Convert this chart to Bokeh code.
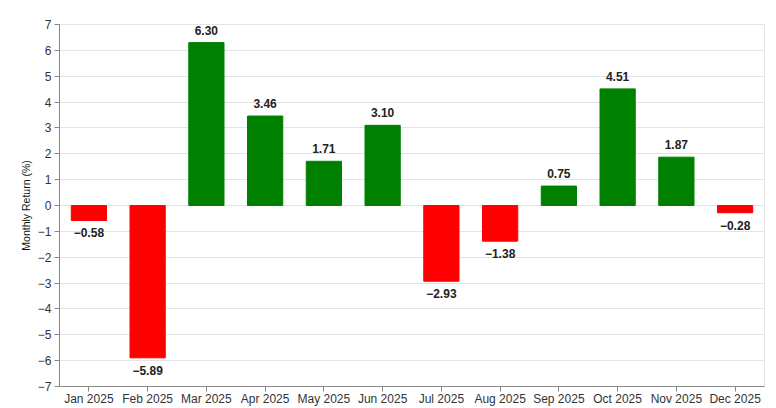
from bokeh.plotting import figure
from bokeh.models import ColumnDataSource, FixedTicker, LabelSet, FactorRange, Range1d
from bokeh.core.properties import value
from bokeh.embed import file_html
from bokeh.resources import INLINE

months = ["Jan 2025", "Feb 2025", "Mar 2025", "Apr 2025", "May 2025", "Jun 2025",
          "Jul 2025", "Aug 2025", "Sep 2025", "Oct 2025", "Nov 2025", "Dec 2025"]
returns = [-0.58, -5.89, 6.30, 3.46, 1.71, 3.10, -2.93, -1.38, 0.75, 4.51, 1.87, -0.28]
y_ticks = list(range(-7, 8))

def fmt(v):
    s = f"{abs(v):.2f}"
    return ("\u2212" + s) if v < 0 else s

colors = ["#008000" if v >= 0 else "#ff0000" for v in returns]
src = ColumnDataSource(dict(m=months, v=returns, c=colors))
pos = ColumnDataSource(dict(m=[m for m, v in zip(months, returns) if v >= 0],
                            v=[v for v in returns if v >= 0],
                            t=[fmt(v) for v in returns if v >= 0]))
neg = ColumnDataSource(dict(m=[m for m, v in zip(months, returns) if v < 0],
                            v=[v for v in returns if v < 0],
                            t=[fmt(v) for v in returns if v < 0]))

p = figure(width=768, height=408, x_range=FactorRange(*months, range_padding=0),
           y_range=Range1d(-7, 7), output_backend="svg", toolbar_location=None,
           min_border_left=59, min_border_right=4, min_border_top=24, min_border_bottom=21)
p.vbar(x="m", top="v", bottom=0, width=0.6, fill_color="c", line_color="c", source=src)

font = "Liberation Sans"
for s, off, base in [(pos, 8, "bottom"), (neg, -8, "top")]:
    p.add_layout(LabelSet(x="m", y="v", text="t", source=s, y_offset=off,
                          text_align="center", text_baseline=base,
                          text_font=value(font), text_font_size=value("12px"),
                          text_font_style=value("bold"), text_color=value("#222222")))

p.yaxis.ticker = FixedTicker(ticks=y_ticks)
p.yaxis.major_label_overrides = {t: (("\u2212" + str(-t)) if t < 0 else str(t)) for t in y_ticks}
p.yaxis.axis_label = "Monthly Return (%)"
p.yaxis.axis_label_text_font = font
p.yaxis.axis_label_text_font_size = "10.5px"
p.yaxis.axis_label_text_font_style = "normal"
p.yaxis.axis_label_text_color = "#111111"
p.yaxis.axis_label_standoff = 3
p.yaxis.major_label_standoff = 3
p.xaxis.major_label_standoff = 0
p.yaxis.minor_tick_line_color = None
for ax in (p.xaxis, p.yaxis):
    ax.axis_line_color = "#888888"
    ax.major_tick_line_color = "#888888"
    ax.major_tick_out = 5
    ax.major_tick_in = 0
    ax.major_label_text_font = font
    ax.major_label_text_font_size = "12px"
    ax.major_label_text_color = "#333333"
p.xgrid.grid_line_color = None
p.ygrid.grid_line_color = "#e4e4e4"
p.outline_line_color = "#e4e4e4"
p.background_fill_color = "white"
p.border_fill_color = "white"

open("out.html", "w").write(file_html(p, INLINE))
